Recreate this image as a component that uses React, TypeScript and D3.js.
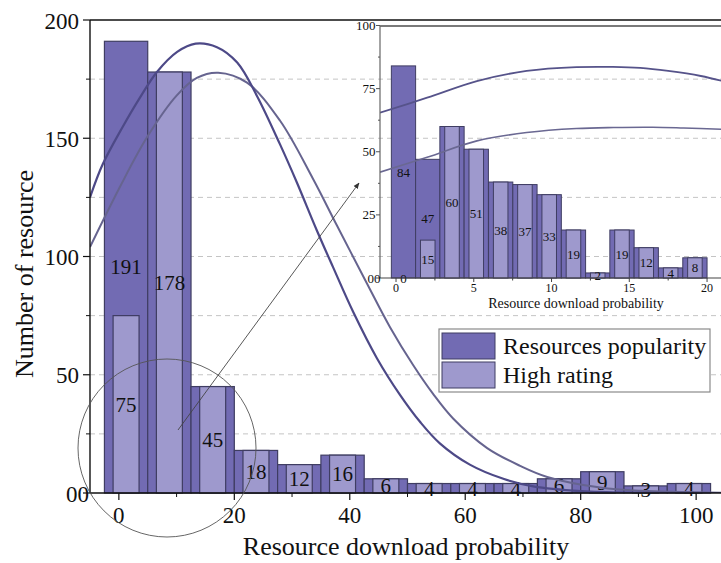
import React from "react";
import * as d3 from "d3";

// main histogram (bins of 7.5)
const binCenters = [1.25, 8.75, 16.25, 23.75, 31.25, 38.75, 46.25, 53.75, 61.25, 68.75, 76.25, 83.75, 91.25, 98.75];
const binWidth = 7.5;
const popularity = [191, 178, 45, 18, 12, 16, 6, 4, 4, 4, 6, 9, 3, 4];
const highRating = [75, 178, 45, 18, 12, 16, 6, 4, 4, 4, 6, 9, 3, 4];

// inset histogram (zoom on 0-20)
const insetCenters = [0.48, 2.04, 3.6, 5.16, 6.73, 8.29, 9.85, 11.41, 12.97, 14.53, 16.09, 17.66, 19.22];
const insetWidth = 1.56;
const insetPopularity = [84, 47, 60, 51, 38, 37, 33, 19, 2, 19, 12, 4, 8];
const insetHighRating = [0, 15, 60, 51, 38, 37, 33, 19, 2, 19, 12, 4, 8];

// fit curves
const fitPopX = [-5, -2.8, 0.7, 3.6, 6.6, 10.1, 13.3, 17, 20.5, 23.9, 27.9, 30.8, 34.3, 37.1, 40.6, 44.7, 48.7, 52.2, 55.6, 60.8, 66.6, 71.8, 80, 90, 105];
const fitPopY = [125, 139, 155, 167, 178, 186.5, 190, 188.5, 182, 168, 147.5, 131.5, 111, 95.5, 76.5, 57, 41.5, 30, 21, 12, 6, 2.8, 0.8, 0.15, 0];
const fitHighX = [-5, 0.2, 4.9, 10, 13.5, 17.2, 22.2, 27.9, 33.6, 37.8, 43, 47, 51, 54.4, 57.9, 63.8, 69.5, 74.2, 83.4, 90.3, 105];
const fitHighY = [104, 129.5, 150.5, 168, 175.5, 177.7, 173.5, 157.5, 133, 113, 88.5, 70, 54, 42, 31.5, 19, 11.5, 6.8, 2.3, 0.9, 0.1];

const insetFitPopX = [-1.03, 2, 5.2, 8.4, 11.6, 13.95, 15.7, 17.5, 19.6, 21];
const insetFitPopY = [65.5, 71.4, 78, 82, 83.5, 83.6, 83.2, 82, 80, 78];
const insetFitHighX = [-1.03, 2, 5.2, 8.4, 11.6, 14, 16.5, 18.5, 21];
const insetFitHighY = [41.9, 47.8, 54.3, 57.6, 59.2, 59.6, 59.7, 59.4, 58.9];

const xTicks = [0, 20, 40, 60, 80, 100];
const xMinor = [10, 30, 50, 70, 90];
const yTicks = [0, 50, 100, 150, 200];
const yMinor = [25, 75, 125, 175];
const gridValues = [25, 50, 75, 100, 125, 150, 175];
const insetXTicks = [0, 5, 10, 15, 20];
const insetXMinor = [2.5, 7.5, 12.5, 17.5];
const insetYTicks = [0, 25, 50, 75, 100];
const insetYMinor = [12.5, 37.5, 62.5, 87.5];

const seriesNames = ["Resources popularity", "High rating"];

const DARK = "#726bb3";
const LIGHT = "#9e99cd";
const EDGE = "#3f3d62";
const serif = "'Liberation Serif', 'Times New Roman', serif";

const W = 721;
const H = 563;

export default function App() {
  const x = d3.scaleLinear().domain([-5, 105]).range([90, 725]);
  const y = d3.scaleLinear().domain([0, 200]).range([493, 20]);
  const ix = d3.scaleLinear().domain([-1.03, 21]).range([380, 722.6]);
  const iy = d3.scaleLinear().domain([0, 100]).range([278, 25.5]);

  const line = d3.line<[number, number]>().curve(d3.curveCatmullRom.alpha(0.5));
  const mainPath = (xs: number[], ys: number[]) =>
    line.x((d) => x(d[0])).y((d) => y(d[1]))(xs.map((v, i) => [v, ys[i]]) as [number, number][]);
  const insetPath = (xs: number[], ys: number[]) =>
    line.x((d) => ix(d[0])).y((d) => iy(d[1]))(xs.map((v, i) => [v, ys[i]]) as [number, number][]);

  const right = W;

  return (
    <div style={{ position: "absolute", left: 0, top: 0 }}>
      <svg width={W} height={H} style={{ display: "block", background: "#fff" }} fontFamily={serif}>
        <defs>
          <clipPath id="mainClip">
            <rect x={90} y={0} width={W - 90} height={493} />
          </clipPath>
          <clipPath id="insetClip">
            <rect x={380} y={26} width={W - 380} height={252} />
          </clipPath>
          <marker id="arrow" viewBox="0 0 10 10" refX={9} refY={5} markerWidth={7} markerHeight={7} orient="auto">
            <path d="M0,1 L10,5 L0,9 z" fill="#333" />
          </marker>
        </defs>

        {/* grid */}
        {gridValues.map((g) => (
          <line key={g} x1={90} x2={right} y1={y(g)} y2={y(g)} stroke="#c4c4c4" strokeDasharray="5,4" />
        ))}

        {/* main bars */}
        {binCenters.map((c, i) => (
          <g key={c}>
            <rect x={x(c - binWidth / 2)} y={y(popularity[i])} width={x(c + binWidth / 2) - x(c - binWidth / 2)}
              height={y(0) - y(popularity[i])} fill={DARK} stroke={EDGE} strokeWidth={1.2} />
            <rect x={x(c - binWidth * 0.3)} y={y(highRating[i])} width={x(c + binWidth * 0.3) - x(c - binWidth * 0.3)}
              height={y(0) - y(highRating[i])} fill={LIGHT} stroke={EDGE} strokeWidth={1.2} />
          </g>
        ))}
        {binCenters.map((c, i) => (
          <g key={"l" + c} fontSize={21} textAnchor="middle" fill="#111">
            {popularity[i] !== highRating[i] && (
              <text x={x(c)} y={y(popularity[i] / 2)} dy="0.35em">{popularity[i]}</text>
            )}
            <text x={x(c)} y={y(highRating[i] / 2)} dy="0.35em">{highRating[i]}</text>
          </g>
        ))}

        {/* main fit curves */}
        <g clipPath="url(#mainClip)" fill="none">
          <path d={mainPath(fitHighX, fitHighY) || ""} stroke="#66648f" strokeWidth={2} />
          <path d={mainPath(fitPopX, fitPopY) || ""} stroke="#4d4987" strokeWidth={2.2} />
        </g>

        {/* main axes */}
        <line x1={90} x2={right} y1={20} y2={20} stroke="#111" strokeWidth={1.6} />
        <line x1={90} x2={90} y1={20} y2={493} stroke="#111" strokeWidth={1.4} />
        <line x1={90} x2={right} y1={493} y2={493} stroke="#111" strokeWidth={1.4} />
        {xTicks.map((t) => (
          <g key={t}>
            <line x1={x(t)} x2={x(t)} y1={493} y2={500} stroke="#111" strokeWidth={1.2} />
            <text x={x(t)} y={523} fontSize={23} textAnchor="middle" fill="#111">{t}</text>
          </g>
        ))}
        {xMinor.map((t) => (
          <line key={t} x1={x(t)} x2={x(t)} y1={493} y2={497} stroke="#111" strokeWidth={1} />
        ))}
        {yTicks.map((t) => (
          <g key={t}>
            <line x1={83} x2={90} y1={y(t)} y2={y(t)} stroke="#111" strokeWidth={1.2} />
            <text x={t === 0 ? 89 : 79} y={y(t)} dy="0.38em" fontSize={23} textAnchor="end" fill="#111">
              {t === 0 ? "00" : t}
            </text>
          </g>
        ))}
        {yMinor.map((t) => (
          <line key={t} x1={86} x2={90} y1={y(t)} y2={y(t)} stroke="#111" strokeWidth={1} />
        ))}
        <text x={406} y={555} fontSize={26} textAnchor="middle" fill="#111">Resource download probability</text>
        <text transform="translate(33,274) rotate(-90)" fontSize={26} textAnchor="middle" fill="#111">Number of resource</text>

        {/* inset bars */}
        {insetCenters.map((c, i) => (
          <g key={"i" + c}>
            <rect x={ix(c - insetWidth / 2)} y={iy(insetPopularity[i])}
              width={ix(c + insetWidth / 2) - ix(c - insetWidth / 2)}
              height={iy(0) - iy(insetPopularity[i])} fill={DARK} stroke={EDGE} strokeWidth={1} />
            {insetHighRating[i] > 0 && (
              <rect x={ix(c - insetWidth * 0.3)} y={iy(insetHighRating[i])}
                width={ix(c + insetWidth * 0.3) - ix(c - insetWidth * 0.3)}
                height={iy(0) - iy(insetHighRating[i])} fill={LIGHT} stroke={EDGE} strokeWidth={1} />
            )}
          </g>
        ))}
        <g clipPath="url(#insetClip)" fill="none">
          <path d={insetPath(insetFitPopX, insetFitPopY) || ""} stroke="#56538a" strokeWidth={1.8} />
          <path d={insetPath(insetFitHighX, insetFitHighY) || ""} stroke="#6a6892" strokeWidth={1.6} />
        </g>
        {insetCenters.map((c, i) => (
          <g key={"il" + c} fontSize={13} textAnchor="middle" fill="#111">
            {insetPopularity[i] !== insetHighRating[i] && (
              <text x={ix(c)} y={iy(insetPopularity[i] / 2)} dy="0.35em">{insetPopularity[i]}</text>
            )}
            <text x={ix(c)} y={iy(insetHighRating[i] / 2)} dy="0.35em">{insetHighRating[i]}</text>
          </g>
        ))}

        {/* inset axes */}
        <line x1={380} x2={right} y1={26} y2={26} stroke="#7a7a7a" strokeWidth={2} />
        <line x1={380} x2={380} y1={26} y2={278} stroke="#666" strokeWidth={1.2} />
        <line x1={380} x2={right} y1={278} y2={278} stroke="#444" strokeWidth={1.2} />
        {insetXTicks.map((t) => (
          <g key={"ix" + t}>
            <line x1={ix(t)} x2={ix(t)} y1={278} y2={282} stroke="#444" />
            <text x={ix(t)} y={292} fontSize={12} textAnchor="middle" fill="#111">{t}</text>
          </g>
        ))}
        {insetXMinor.map((t) => (
          <line key={"ixm" + t} x1={ix(t)} x2={ix(t)} y1={278} y2={280.5} stroke="#444" />
        ))}
        {insetYTicks.map((t) => (
          <g key={"iy" + t}>
            <line x1={376} x2={380} y1={iy(t)} y2={iy(t)} stroke="#555" />
            <text x={t === 0 ? 380.5 : 375.5} y={iy(t)} dy="0.35em" fontSize={13} textAnchor="end" fill="#111">
              {t === 0 ? "00" : t}
            </text>
          </g>
        ))}
        {insetYMinor.map((t) => (
          <line key={"iym" + t} x1={378} x2={380} y1={iy(t)} y2={iy(t)} stroke="#555" />
        ))}
        <text x={576} y={308} fontSize={14} textAnchor="middle" fill="#111">Resource download probability</text>

        {/* legend */}
        <g>
          <rect x={439} y={329} width={271} height={63} fill="#fff" stroke="#8a8a8a" strokeWidth={1.2} />
          {seriesNames.map((name, i) => (
            <g key={name}>
              <rect x={442} y={333 + i * 29} width={53} height={26} fill={i === 0 ? DARK : LIGHT} stroke={EDGE} strokeWidth={1} />
              <text x={503} y={354 + i * 29} fontSize={24} fill="#111">{name}</text>
            </g>
          ))}
        </g>

        {/* zoom marker */}
        <circle cx={167} cy={448} r={89} fill="none" stroke="#555" strokeWidth={0.9} />
        <line x1={178} y1={430} x2={359} y2={183} stroke="#444" strokeWidth={0.9} markerEnd="url(#arrow)" />
      </svg>
    </div>
  );
}
